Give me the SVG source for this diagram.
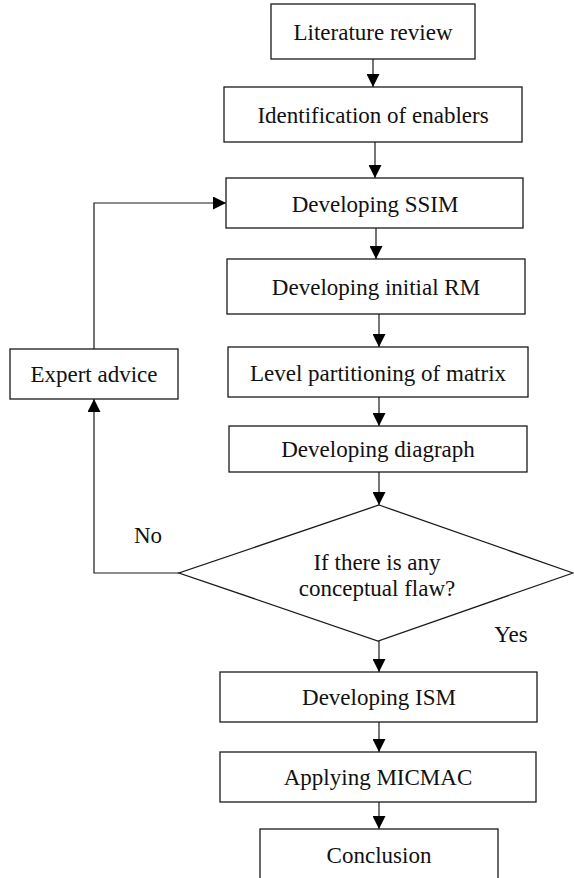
<svg xmlns="http://www.w3.org/2000/svg" width="574" height="878" viewBox="0 0 574 878">
  <style>
    .box { fill: #ffffff; stroke: #1a1a1a; stroke-width: 1.3; }
    .lbl { font-family: "Liberation Serif", "Times New Roman", serif; font-size: 23px; fill: #111; text-anchor: middle; }
    .edge { fill: none; stroke: #1a1a1a; stroke-width: 1.2; marker-end: url(#arrow); }
    .line { fill: none; stroke: #1a1a1a; stroke-width: 1.2; }
  </style>
  <defs>
    <marker id="arrow" markerUnits="userSpaceOnUse" markerWidth="13" markerHeight="13" refX="13" refY="6.5" orient="auto">
      <path d="M0,0 L13,6.5 L0,13 Z" fill="#000"/>
    </marker>
  </defs>
  <rect width="574" height="878" fill="#ffffff"/>

  <!-- Connectors -->
  <g id="connectors">
    <line class="edge" x1="373" y1="59" x2="373" y2="87"/>
    <line class="edge" x1="375" y1="142" x2="375" y2="178"/>
    <line class="edge" x1="376" y1="228" x2="376" y2="259"/>
    <line class="edge" x1="379" y1="314" x2="379" y2="347"/>
    <line class="edge" x1="379" y1="397" x2="379" y2="426"/>
    <line class="edge" x1="379" y1="472" x2="379" y2="505"/>
    <line class="edge" x1="379" y1="641" x2="379" y2="672"/>
    <line class="edge" x1="379" y1="722" x2="379" y2="752"/>
    <line class="edge" x1="379" y1="802" x2="379" y2="829"/>
    <!-- "No" branch back to expert advice -->
    <polyline class="edge" points="179,573 94,573 94,399"/>
    <!-- expert advice feeds back into SSIM -->
    <polyline class="edge" points="94,349 94,203 226,203"/>
  </g>

  <g id="n-literature">
    <rect class="box" x="271" y="4" width="204" height="55"/>
    <text class="lbl" x="373" y="40">Literature review</text>
  </g>
  <g id="n-identification">
    <rect class="box" x="224" y="87" width="298" height="55"/>
    <text class="lbl" x="373" y="123">Identification of enablers</text>
  </g>
  <g id="n-ssim">
    <rect class="box" x="226" y="178" width="297" height="50"/>
    <text class="lbl" x="375" y="212">Developing SSIM</text>
  </g>
  <g id="n-initial-rm">
    <rect class="box" x="227" y="259" width="298" height="55"/>
    <text class="lbl" x="376" y="295">Developing initial RM</text>
  </g>
  <g id="n-level">
    <rect class="box" x="228" y="347" width="300" height="50"/>
    <text class="lbl" x="378" y="381">Level partitioning of matrix</text>
  </g>
  <g id="n-diagraph">
    <rect class="box" x="229" y="426" width="298" height="46"/>
    <text class="lbl" x="378" y="457">Developing diagraph</text>
  </g>
  <g id="n-decision">
    <polygon class="box" points="379,505 573,573 378,641 179,573"/>
    <text class="lbl" x="377" y="570">If there is any</text>
    <text class="lbl" x="377" y="596">conceptual flaw?</text>
  </g>
  <g id="n-expert">
    <rect class="box" x="10" y="349" width="168" height="50"/>
    <text class="lbl" x="94" y="382">Expert advice</text>
  </g>
  <g id="n-ism">
    <rect class="box" x="220" y="672" width="317" height="50"/>
    <text class="lbl" x="379" y="705">Developing ISM</text>
  </g>
  <g id="n-micmac">
    <rect class="box" x="220" y="752" width="316" height="50"/>
    <text class="lbl" x="378" y="785">Applying MICMAC</text>
  </g>
  <g id="n-conclusion">
    <rect class="box" x="260" y="829" width="238" height="60"/>
    <text class="lbl" x="379" y="863">Conclusion</text>
  </g>

  <g id="branch-labels">
    <text class="lbl" x="148" y="543">No</text>
    <text class="lbl" x="511" y="642">Yes</text>
  </g>
</svg>
